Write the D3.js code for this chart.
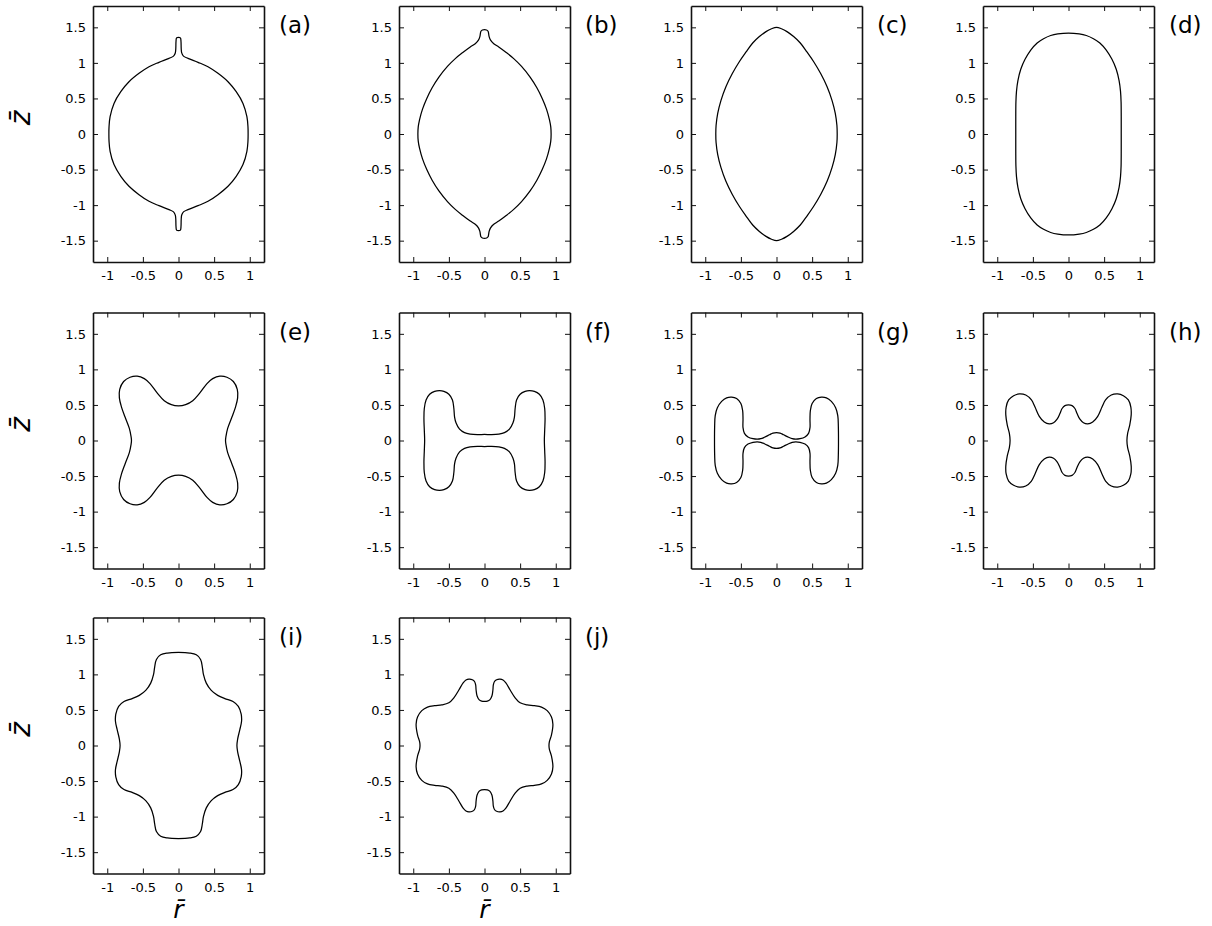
<!DOCTYPE html>
<meta charset="utf-8">
<style>

body { margin: 0; background: #fff; }
svg text { fill: #000; font-family: "DejaVu Sans", sans-serif; }
.shape { fill: none; stroke: #000; stroke-width: 1.25; }
.axis path { stroke: #111; stroke-width: 1.6; }
.axis line { stroke: #111; stroke-width: 1; }

</style>
<body>
<script src="https://d3js.org/d3.v7.min.js"></script>
<script>

// tick values and panel names
var rTicks = [-1, -0.5, 0, 0.5, 1];
var zTicks = [-1.5, -1, -0.5, 0, 0.5, 1, 1.5];
var panelNames = ["(a)", "(b)", "(c)", "(d)", "(e)", "(f)", "(g)", "(h)", "(i)", "(j)"];

// drop contours, first quadrant only [r, z], from the top of the axis (r = 0) round to z = 0
// (every shape is symmetric about both axes, the rest is mirrored)
var shapeA = [[0,1.36],[0.027,1.352],[0.035,1.3],[0.038,1.2],[0.045,1.14],[0.07,1.095],[0.133,1.064],
  [0.274,1.008],[0.414,0.946],[0.554,0.853],[0.695,0.735],[0.81,0.595],[0.905,0.43],[0.96,0.243],
  [0.975,0.1],[0.977,0]];
var shapeB = [[0,1.468],[0.03,1.462],[0.05,1.445],[0.058,1.41],[0.065,1.37],[0.085,1.32],[0.13,1.27],
  [0.2,1.225],[0.3,1.15],[0.41,1.06],[0.52,0.95],[0.64,0.8],[0.735,0.65],[0.81,0.5],[0.87,0.35],
  [0.912,0.2],[0.93,0.1],[0.935,0]];
var shapeC = [[0,1.5],[0.07,1.48],[0.147,1.44],[0.24,1.37],[0.334,1.28],[0.43,1.15],[0.52,1.02],
  [0.62,0.85],[0.71,0.665],[0.78,0.47],[0.825,0.29],[0.848,0.12],[0.852,0]];
var shapeD = [[0,1.42],[0.15,1.408],[0.25,1.385],[0.35,1.34],[0.44,1.28],[0.53,1.18],[0.61,1.05],
  [0.67,0.91],[0.71,0.75],[0.73,0.6],[0.738,0.45],[0.74,0.25],[0.74,0]];
var shapeE = [[0,0.488],[0.1,0.505],[0.2,0.56],[0.3,0.67],[0.4,0.8],[0.48,0.87],[0.58,0.905],[0.68,0.89],
  [0.77,0.83],[0.825,0.72],[0.83,0.6],[0.8,0.47],[0.75,0.33],[0.69,0.17],[0.665,0.05],[0.66,0]];
var shapeF = [[0,0.085],[0.1,0.083],[0.2,0.09],[0.28,0.11],[0.35,0.16],[0.4,0.25],[0.42,0.33],[0.43,0.45],
  [0.45,0.57],[0.5,0.65],[0.57,0.69],[0.63,0.7],[0.7,0.69],[0.77,0.65],[0.82,0.57],[0.845,0.45],
  [0.85,0.3],[0.845,0.15],[0.84,0]];
var shapeG = [[0,0.112],[0.05,0.105],[0.1,0.08],[0.17,0.045],[0.22,0.025],[0.27,0.018],[0.33,0.025],
  [0.4,0.05],[0.45,0.1],[0.47,0.18],[0.47,0.3],[0.475,0.42],[0.5,0.52],[0.56,0.59],[0.63,0.61],
  [0.7,0.6],[0.77,0.55],[0.83,0.46],[0.86,0.35],[0.868,0.2],[0.87,0]];
var shapeH = [[0,0.5],[0.05,0.49],[0.09,0.45],[0.12,0.38],[0.16,0.3],[0.21,0.25],[0.27,0.234],[0.34,0.26],
  [0.41,0.34],[0.47,0.47],[0.52,0.57],[0.6,0.64],[0.69,0.656],[0.77,0.63],[0.84,0.57],[0.875,0.47],
  [0.88,0.36],[0.86,0.22],[0.83,0.1],[0.82,0]];
var shapeI = [[0,1.308],[0.157,1.3],[0.25,1.275],[0.31,1.21],[0.335,1.1],[0.35,1.0],[0.39,0.877],
  [0.46,0.775],[0.55,0.705],[0.65,0.66],[0.765,0.62],[0.84,0.55],[0.88,0.44],[0.885,0.34],[0.86,0.22],
  [0.83,0.09],[0.82,0]];
var shapeJ = [[0,0.619],[0.04,0.623],[0.077,0.645],[0.105,0.7],[0.118,0.78],[0.124,0.853],[0.14,0.9],
  [0.17,0.925],[0.218,0.933],[0.26,0.92],[0.3,0.88],[0.36,0.78],[0.43,0.67],[0.5,0.6],[0.6,0.57],
  [0.7,0.56],[0.8,0.54],[0.88,0.49],[0.94,0.4],[0.96,0.3],[0.94,0.15],[0.91,0.05],[0.905,0]];

var shapes = [shapeA, shapeB, shapeC, shapeD, shapeE, shapeF, shapeG, shapeH, shapeI, shapeJ];

// layout of the grid
var colLeft = [93, 399, 691, 983],
    rowTop = [6, 312.5, 617.5],
    width = 171,
    height = 256;

var x = d3.scaleLinear().domain([-1.2, 1.2]).range([0, width]);
var y = d3.scaleLinear().domain([-1.8, 1.8]).range([height, 0]);

var line = d3.line()
    .x(function(d) { return x(d[0]); })
    .y(function(d) { return y(d[1]); })
    .curve(d3.curveCatmullRomClosed.alpha(0.5));

// mirror a quadrant into the whole closed contour
function fullContour(q) {
  var right = q.concat(q.slice(0, -1).reverse().map(function(p) { return [p[0], -p[1]]; }));
  var left = right.slice(1, -1).reverse().map(function(p) { return [-p[0], p[1]]; });
  return right.concat(left);
}

var svg = d3.select("body").append("svg")
    .attr("width", 1212)
    .attr("height", 926);

shapes.forEach(function(shape, i) {
  var col = i % 4, row = Math.floor(i / 4);
  var g = svg.append("g")
      .attr("transform", "translate(" + colLeft[col] + "," + rowTop[row] + ")");

  var fmt = function(d) { return String(d); };

  g.append("g").attr("class", "axis")
      .attr("transform", "translate(0," + height + ")")
      .call(d3.axisBottom(x).tickValues(rTicks).tickFormat(fmt).tickSize(-5).tickSizeOuter(0).tickPadding(9));
  g.append("g").attr("class", "axis")
      .call(d3.axisTop(x).tickValues(rTicks).tickFormat("").tickSize(-5).tickSizeOuter(0));
  g.append("g").attr("class", "axis")
      .call(d3.axisLeft(y).tickValues(zTicks).tickFormat(fmt).tickSize(-5).tickSizeOuter(0).tickPadding(7));
  g.append("g").attr("class", "axis")
      .attr("transform", "translate(" + width + ",0)")
      .call(d3.axisRight(y).tickValues(zTicks).tickFormat("").tickSize(-5).tickSizeOuter(0));

  g.selectAll(".axis")
      .attr("font-family", "DejaVu Sans")
      .attr("font-size", 13);
  g.selectAll(".axis text").attr("fill", "#000");

  g.append("path")
      .datum(fullContour(shape))
      .attr("class", "shape")
      .attr("d", line);

  g.append("text")
      .attr("x", width + 15)
      .attr("y", 27)
      .attr("font-size", 23)
      .text(panelNames[i]);

  // axis titles
  if (col === 0) {
    svg.append("text")
        .attr("transform", "translate(20," + (rowTop[row] + 112) + ") rotate(-90)")
        .attr("text-anchor", "middle")
        .attr("dominant-baseline", "central")
        .attr("font-size", 28)
        .attr("font-style", "italic")
        .text("z\u0304");
  }
  if (row === 2) {
    svg.append("text")
        .attr("x", colLeft[col] + width / 2)
        .attr("y", 918)
        .attr("text-anchor", "middle")
        .attr("font-size", 25)
        .attr("font-style", "italic")
        .text("r\u0304");
  }
});

</script>
</body>
